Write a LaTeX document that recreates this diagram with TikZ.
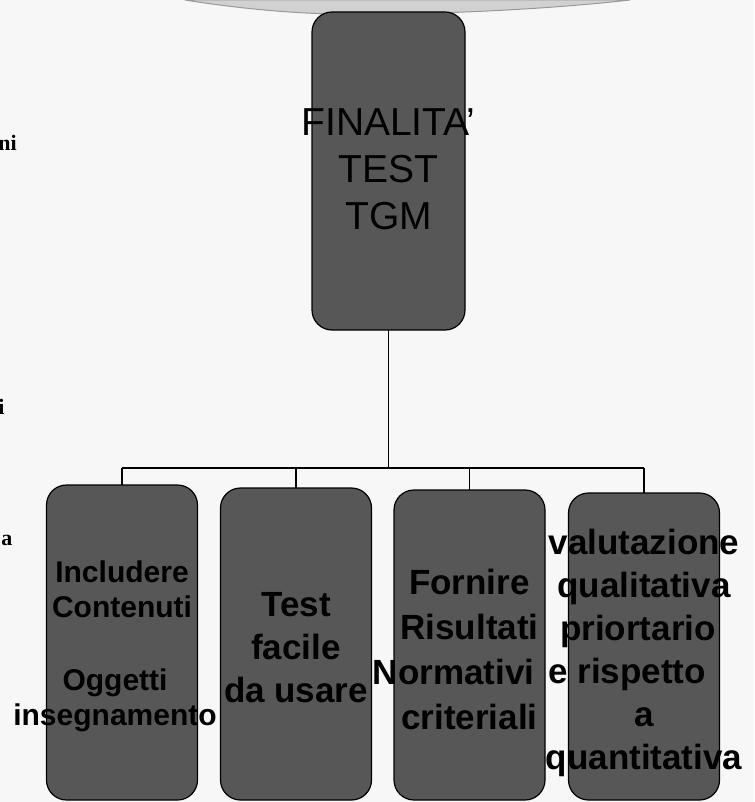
\documentclass[tikz,border=0pt]{standalone}
\usepackage{fontspec}
\setmainfont{Liberation Sans}
\newfontfamily\pageserif{Liberation Serif}
\usetikzlibrary{positioning}

\begin{document}
\begin{tikzpicture}[
        x = 0.5pt, y = -0.5pt,
        box/.style = {
            draw,
            rounded corners = 10pt,
            fill = black!66,
            line width = 0.6pt,
            minimum width = 75.5pt,
            minimum height = #1,
            inner sep = 0pt,
            outer sep = 0pt
        },
        box/.default = 157pt,
        boxtext/.style = {
            font = \bfseries\fontsize{17.5}{21.5}\selectfont,
            align = center,
            inner sep = 0pt
        },
        toptext/.style = {
            font = \fontsize{19.5}{23.5}\selectfont,
            align = center,
            inner sep = 0pt
        },
        pagetext/.style = {
            font = \pageserif\bfseries\fontsize{11}{13}\selectfont,
            inner sep = 0pt
        },
        link/.style = {line width = 0.7pt}
    ]
    \useasboundingbox (0,0) rectangle (754,802);
    \fill[black!3] (0,0) rectangle (754,802);
    
    % page curl at the top
    \filldraw[fill=black!18, draw=black!40, line width=0.5pt] (185,0) .. controls (260,12) and (330,16) .. (390,14) .. controls (470,13) and (560,8) .. (630,0) -- cycle;
    
    % text of the page behind
    \node[pagetext, anchor=west] (m1) at (-2,143) {ni};
    \node[pagetext, anchor=west] (m2) at (-2,407) {i};
    \node[pagetext, anchor=west] (m3) at (1,540) {a};
    
    \node[box=159pt, minimum width=76.5pt,
          label={[toptext, yshift=1pt]center:{FINALITA'\\TEST\\TGM}}] (goal) at (388.5,171) {};
    
    \node[box=157.5pt,
          label={[boxtext, yshift=-2pt, font=\bfseries\fontsize{15}{17.5}\selectfont]center:{Includere\\Contenuti\\[19pt]\mbox{Oggetti\kern7pt}\\\mbox{insegnamento\kern7pt}}}] (b1) at (122,642.5) {};
    \node[box=156pt,
          label={[boxtext, yshift=-2pt]center:{Test\\facile\\da usare}}] (b2) at (296,644) {};
    \node[box=155pt,
          label={[boxtext, yshift=-2pt, font=\bfseries\fontsize{17.5}{22.5}\selectfont]center:{Fornire\\Risultati\\\mbox{Normativi\kern16pt}\\criteriali}}] (b3) at (469.5,645) {};
    \node[box=153.5pt,
          label={[boxtext, yshift=-3pt]center:{valutazione\\qualitativa\\\mbox{priortario\kern6pt}\\\mbox{e rispetto\kern17pt}\\a\\quantitativa}}] (b4) at (644,646.5) {};
    
    \coordinate (bar) at (383,468);
    
    \draw[link] (goal.south) -- (goal.south |- bar);
    \draw[link] (b1.north |- bar) -- (b4.north |- bar);
    \draw[link] (b1.north |- bar) -- (b1.north);
    \draw[link] (b2.north |- bar) -- (b2.north);
    \draw[link] (b3.north |- bar) -- (b3.north);
    \draw[link] (b4.north |- bar) -- (b4.north);
    
\end{tikzpicture}
\end{document}
